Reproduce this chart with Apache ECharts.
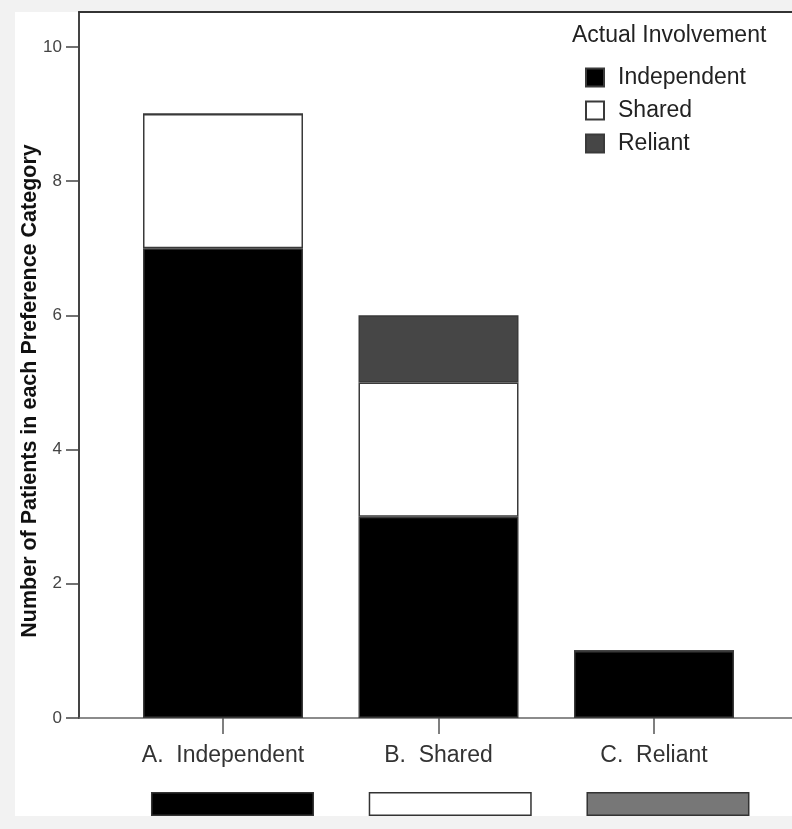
<!DOCTYPE html>
<html>
<head>
<meta charset="utf-8">
<script src="https://cdn.jsdelivr.net/npm/echarts@6/dist/echarts.min.js"></script>
<style>
  html, body { margin: 0; padding: 0; background: #f2f2f2; }
  #panel { position: absolute; left: 15px; top: 12px; width: 777px; height: 804px; background: #ffffff; }
  #chart { position: absolute; left: 0; top: 0; width: 792px; height: 829px; }
</style>
</head>
<body>
<div id="panel"></div>
<div id="chart"></div>
<script>
// ---- data ----
const categories = ['A.  Independent', 'B.  Shared', 'C.  Reliant'];
const independentValues = [7, 3, 1];
const sharedValues = [2, 2, 0];
const reliantValues = [0, 1, 0];
const preferenceKeyValues = [1, 1, 1];
const yTicks = [0, 2, 4, 6, 8, 10];

const FONT = 'Liberation Sans';
const chart = echarts.init(document.getElementById('chart'), null, { renderer: 'canvas' });

const barBorder = { borderColor: '#3a3a3a', borderWidth: 1.5 };

const option = {
  backgroundColor: 'transparent',
  animation: false,
  textStyle: { fontFamily: FONT },
  title: {
    text: 'Actual Involvement',
    left: 572, top: 24, padding: 0,
    textStyle: { fontFamily: FONT, fontSize: 23, fontWeight: 'normal', color: '#222' }
  },
  legend: {
    data: ['Independent', 'Shared', 'Reliant'],
    orient: 'vertical',
    left: 585, top: 66, padding: 0,
    itemWidth: 18, itemHeight: 18, itemGap: 10,
    icon: 'rect',
    textStyle: { fontFamily: FONT, fontSize: 23, color: '#222', padding: [0, 0, 0, 9] }
  },
  grid: [
    { left: 79, right: 0, top: 12, bottom: 111 },
    { left: 115.25, right: 30.25, top: 12, bottom: 111 },
    { left: 123.6, right: 15.15, top: 792, bottom: 13 }
  ],
  xAxis: [
    { gridIndex: 0, type: 'value', min: 0, max: 1, position: 'bottom',
      axisLine: { show: true, lineStyle: { color: '#666', width: 1.5 } },
      axisTick: { show: false }, axisLabel: { show: false }, splitLine: { show: false } },
    { gridIndex: 0, type: 'value', min: 0, max: 1, position: 'top',
      axisLine: { show: true, lineStyle: { color: '#333', width: 2 } },
      axisTick: { show: false }, axisLabel: { show: false }, splitLine: { show: false } },
    { gridIndex: 1, type: 'category', data: categories, offset: 3,
      axisLine: { show: false },
      axisTick: { show: true, alignWithLabel: true, length: 16, lineStyle: { color: '#555', width: 1.5 } },
      axisLabel: { fontFamily: FONT, fontSize: 23, color: '#333', margin: 23 } },
    { gridIndex: 2, type: 'category', data: categories, show: false }
  ],
  yAxis: [
    { gridIndex: 0, type: 'value', min: 0, max: 10.52, interval: 2,
      axisLine: { show: true, lineStyle: { color: '#444', width: 2 } },
      axisTick: { show: true, length: 13, lineStyle: { color: '#444', width: 1.5 } },
      axisLabel: { fontFamily: FONT, fontSize: 17, color: '#444', margin: 17, showMaxLabel: false,
        formatter: v => (yTicks.includes(v) ? String(v) : '') },
      splitLine: { show: false },
      name: 'Number of Patients in each Preference Category',
      nameLocation: 'middle', nameGap: 38, nameMoveOverlap: false,
      nameTextStyle: { fontFamily: FONT, fontSize: 21.5, fontWeight: 'bold', color: '#111', padding: [0, 52, 0, 0] } },
    { gridIndex: 1, type: 'value', min: 0, max: 10.52, show: false },
    { gridIndex: 2, type: 'value', min: 0, max: 1, show: false }
  ],
  series: [
    { name: 'Independent', type: 'bar', stack: 'total', xAxisIndex: 2, yAxisIndex: 1,
      barWidth: 160, data: independentValues,
      itemStyle: Object.assign({ color: '#000000' }, barBorder) },
    { name: 'Shared', type: 'bar', stack: 'total', xAxisIndex: 2, yAxisIndex: 1,
      barWidth: 160, data: sharedValues,
      itemStyle: Object.assign({ color: '#ffffff' }, barBorder) },
    { name: 'Reliant', type: 'bar', stack: 'total', xAxisIndex: 2, yAxisIndex: 1,
      barWidth: 160, data: reliantValues,
      itemStyle: Object.assign({ color: '#464646' }, barBorder) },
    { name: 'key', type: 'bar', xAxisIndex: 3, yAxisIndex: 2, barWidth: 163,
      data: preferenceKeyValues.map((v, i) => ({
        value: v,
        itemStyle: { color: ['#000000', '#ffffff', '#777777'][i], borderColor: '#333', borderWidth: 1.5 }
      })) }
  ]
};
chart.setOption(option);
</script>
</body>
</html>
